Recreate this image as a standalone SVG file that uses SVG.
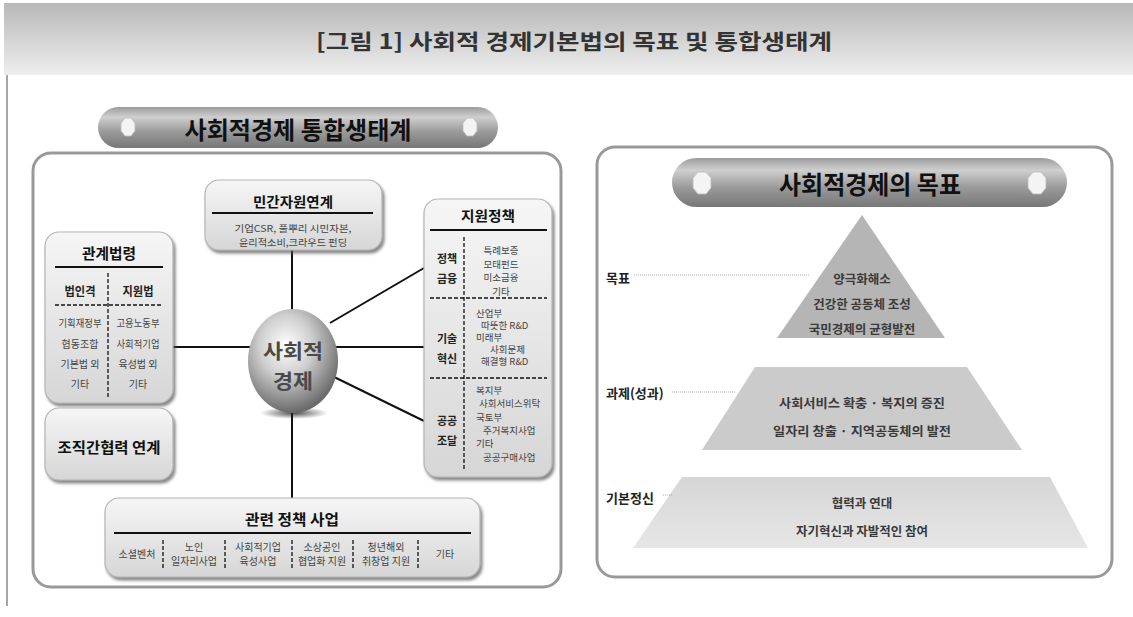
<svg xmlns="http://www.w3.org/2000/svg" width="1133" height="617" viewBox="0 0 1133 617">
<defs>
<linearGradient id="hdr" x1="0" y1="0" x2="0" y2="1"><stop offset="0" stop-color="#b8b8b8"/><stop offset="1" stop-color="#eeeeee"/></linearGradient>
<linearGradient id="pill" x1="0" y1="0" x2="0" y2="1"><stop offset="0" stop-color="#9c9c9c"/><stop offset="0.25" stop-color="#cfcfcf"/><stop offset="0.6" stop-color="#9a9a9a"/><stop offset="1" stop-color="#777"/></linearGradient>
<linearGradient id="box" x1="0" y1="0" x2="0" y2="1"><stop offset="0" stop-color="#f6f6f6"/><stop offset="1" stop-color="#d6d6d6"/></linearGradient>
<linearGradient id="base" x1="0" y1="0" x2="0" y2="1"><stop offset="0" stop-color="#d6d6d6"/><stop offset="1" stop-color="#e6e6e6"/></linearGradient>
<radialGradient id="sphere" cx="0.42" cy="0.35" r="0.65"><stop offset="0" stop-color="#ffffff"/><stop offset="0.45" stop-color="#cfcfcf"/><stop offset="1" stop-color="#6a6a6a"/></radialGradient>
<radialGradient id="sshadow" cx="0.5" cy="0.5" r="0.5"><stop offset="0" stop-color="#222" stop-opacity="0.8"/><stop offset="1" stop-color="#222" stop-opacity="0"/></radialGradient>
<filter id="sh" x="-10%" y="-10%" width="125%" height="130%"><feDropShadow dx="2" dy="3" stdDeviation="1.5" flood-color="#555" flood-opacity="0.7"/></filter>
</defs>
<style>
text{font-family:"Noto Sans CJK KR","Noto Sans",sans-serif;text-anchor:middle;dominant-baseline:central}
.b{font-weight:bold}
.nb{fill:url(#box);stroke:#b4b4b4;stroke-width:1.2;filter:url(#sh)}
.panel{fill:#fff;stroke:#999;stroke-width:3}
.rule{stroke:#111;stroke-width:2}
.dash{stroke:#111;stroke-width:1.3;stroke-dasharray:4 2;fill:none}
.sm{font-size:10px;fill:#444}
.xs{font-size:9.5px;fill:#444}
.conn{stroke:#111;stroke-width:2;fill:none}
.lead{stroke:#999;stroke-width:0.8;stroke-dasharray:1 1}
.oct{fill:#f4f4f4;stroke:#bbb;stroke-width:0.8}
.pt{font-size:12.5px;font-weight:bold;fill:#3a3a3a}
.lbl{font-size:13px;font-weight:bold;fill:#222;text-anchor:start}
</style>

<g id="header">
<rect x="4" y="3" width="1129" height="72" fill="url(#hdr)"/>
<text x="574" y="40" class="b" font-size="21" fill="#333" textLength="516" lengthAdjust="spacingAndGlyphs">[그림 1] 사회적 경제기본법의 목표 및 통합생태계</text>
</g>
<line x1="7" y1="75" x2="7" y2="606" stroke="#888" stroke-width="1.5"/>

<g id="left-panel">
<rect class="panel" x="33" y="153" width="528" height="434" rx="18"/>
<rect x="98" y="107" width="400" height="41" rx="20.5" fill="url(#pill)"/>
<polygon class="oct" points="125,118 131,118 135,123 135,131 131,136 125,136 121,131 121,123"/>
<polygon class="oct" points="467,118 473,118 477,123 477,131 473,136 467,136 463,131 463,123"/>
<text x="298" y="128" class="b" font-size="24" fill="#111" textLength="227" lengthAdjust="spacingAndGlyphs">사회적경제 통합생태계</text>
</g>

<g id="connectors">
<line class="conn" x1="173" y1="347" x2="250" y2="347"/>
<line class="conn" x1="292" y1="250" x2="292" y2="312"/>
<line class="conn" x1="292" y1="412" x2="292" y2="498"/>
<line class="conn" x1="330" y1="323" x2="424" y2="268"/>
<line class="conn" x1="336" y1="347" x2="424" y2="347"/>
<line class="conn" x1="330" y1="375" x2="424" y2="421"/>
</g>

<g id="node-center">
<ellipse cx="294" cy="413" rx="34" ry="6" fill="url(#sshadow)"/>
<ellipse cx="293" cy="361" rx="45" ry="52" fill="url(#sphere)"/>
<text x="293" y="350" class="b" font-size="20" fill="#4a4a4a" textLength="60" lengthAdjust="spacingAndGlyphs">사회적</text>
<text x="293" y="380" class="b" font-size="20" fill="#4a4a4a" textLength="40" lengthAdjust="spacingAndGlyphs">경제</text>
</g>

<g id="node-laws">
<rect class="nb" x="45" y="232" width="128" height="171" rx="14"/>
<text x="109" y="252" class="b" font-size="15" fill="#111" textLength="54" lengthAdjust="spacingAndGlyphs">관계법령</text>
<line class="rule" x1="55" y1="267" x2="163" y2="267"/>
<text x="80" y="290" class="b" font-size="12" fill="#222" textLength="31" lengthAdjust="spacingAndGlyphs">법인격</text>
<text x="138" y="290" class="b" font-size="12" fill="#222" textLength="31" lengthAdjust="spacingAndGlyphs">지원법</text>
<line class="dash" x1="55" y1="305" x2="163" y2="305"/>
<line class="dash" x1="108" y1="273" x2="108" y2="398"/>
<text x="80" y="322" class="sm" textLength="43" lengthAdjust="spacingAndGlyphs">기획재정부</text>
<text x="80" y="343" class="sm">협동조합</text>
<text x="80" y="363" class="sm">기본법 외</text>
<text x="80" y="383" class="sm">기타</text>
<text x="138" y="322" class="sm" textLength="43" lengthAdjust="spacingAndGlyphs">고용노동부</text>
<text x="138" y="343" class="sm" textLength="43" lengthAdjust="spacingAndGlyphs">사회적기업</text>
<text x="138" y="363" class="sm">육성법 외</text>
<text x="138" y="383" class="sm">기타</text>
</g>

<g id="node-org">
<rect class="nb" x="45" y="408" width="128" height="72" rx="14"/>
<text x="109" y="446" class="b" font-size="15" fill="#111" textLength="103" lengthAdjust="spacingAndGlyphs">조직간협력 연계</text>
</g>

<g id="node-private">
<rect class="nb" x="205" y="180" width="177" height="70" rx="14"/>
<text x="293" y="201" class="b" font-size="14" fill="#111" textLength="80" lengthAdjust="spacingAndGlyphs">민간자원연계</text>
<line class="rule" x1="212" y1="213" x2="373" y2="213"/>
<text x="293" y="228" class="xs" textLength="117" lengthAdjust="spacingAndGlyphs">기업CSR, 풀뿌리 시민자본,</text>
<text x="293" y="242" class="xs" textLength="108" lengthAdjust="spacingAndGlyphs">윤리적소비,크라우드 펀딩</text>
</g>

<g id="node-policy">
<rect class="nb" x="424" y="199" width="128" height="278" rx="14"/>
<text x="488" y="215" class="b" font-size="14" fill="#111" textLength="54" lengthAdjust="spacingAndGlyphs">지원정책</text>
<line class="rule" x1="430" y1="230" x2="547" y2="230"/>
<line class="dash" x1="464" y1="237" x2="464" y2="470"/>
<line class="dash" x1="430" y1="298" x2="547" y2="298"/>
<line class="dash" x1="430" y1="378" x2="547" y2="378"/>
<text x="447" y="258" class="b" font-size="11" fill="#222">정책</text>
<text x="447" y="278" class="b" font-size="11" fill="#222">금융</text>
<text x="447" y="338" class="b" font-size="11" fill="#222">기술</text>
<text x="447" y="358" class="b" font-size="11" fill="#222">혁신</text>
<text x="447" y="420" class="b" font-size="11" fill="#222">공공</text>
<text x="447" y="440" class="b" font-size="11" fill="#222">조달</text>
<text x="501" y="250" class="xs">특례보증</text>
<text x="501" y="264" class="xs">모태펀드</text>
<text x="501" y="277" class="xs">미소금융</text>
<text x="501" y="291" class="xs">기타</text>
<text x="476" y="313" class="xs" style="text-anchor:start">산업부</text>
<text x="481" y="325" class="xs" style="text-anchor:start">따뜻한 R&amp;D</text>
<text x="476" y="337" class="xs" style="text-anchor:start">미래부</text>
<text x="490" y="349" class="xs" style="text-anchor:start">사회문제</text>
<text x="481" y="361" class="xs" style="text-anchor:start">해결형 R&amp;D</text>
<text x="476" y="390" class="xs" style="text-anchor:start">복지부</text>
<text x="479" y="403" class="xs" style="text-anchor:start">사회서비스위탁</text>
<text x="476" y="417" class="xs" style="text-anchor:start">국토부</text>
<text x="483" y="430" class="xs" style="text-anchor:start">주거복지사업</text>
<text x="476" y="443" class="xs" style="text-anchor:start">기타</text>
<text x="483" y="457" class="xs" style="text-anchor:start">공공구매사업</text>
</g>

<g id="node-projects">
<rect class="nb" x="105" y="498" width="375" height="79" rx="14"/>
<text x="292" y="518" class="b" font-size="15" fill="#111" textLength="94" lengthAdjust="spacingAndGlyphs">관련 정책 사업</text>
<line class="rule" x1="114" y1="533" x2="471" y2="533"/>
<line class="dash" x1="163" y1="540" x2="163" y2="569"/>
<line class="dash" x1="225" y1="540" x2="225" y2="569"/>
<line class="dash" x1="292" y1="540" x2="292" y2="569"/>
<line class="dash" x1="353" y1="540" x2="353" y2="569"/>
<line class="dash" x1="418" y1="540" x2="418" y2="569"/>
<text x="137" y="553" class="sm">소셜벤처</text>
<text x="194" y="546" class="sm">노인</text>
<text x="194" y="560" class="sm">일자리사업</text>
<text x="258" y="546" class="sm">사회적기업</text>
<text x="258" y="560" class="sm">육성사업</text>
<text x="322" y="546" class="sm">소상공인</text>
<text x="322" y="560" class="sm">협업화 지원</text>
<text x="386" y="546" class="sm">청년해외</text>
<text x="386" y="560" class="sm">취창업 지원</text>
<text x="445" y="553" class="sm">기타</text>
</g>

<g id="right-panel">
<rect class="panel" x="597" y="147" width="515" height="430" rx="18"/>
<rect x="672" y="158" width="395" height="49" rx="24.5" fill="url(#pill)"/>
<polygon class="oct" points="698,172 706,172 711,178 711,188 706,194 698,194 693,188 693,178"/>
<polygon class="oct" points="1033,172 1041,172 1046,178 1046,188 1041,194 1033,194 1028,188 1028,178"/>
<text x="870" y="183" class="b" font-size="25" fill="#111" textLength="182" lengthAdjust="spacingAndGlyphs">사회적경제의 목표</text>
</g>

<g id="tier-goal">
<polygon points="862,215 945,338 777,338" fill="#b5b5b5"/>
<text x="862" y="278" class="pt">양극화해소</text>
<text x="862" y="303" class="pt">건강한 공동체 조성</text>
<text x="862" y="328" class="pt">국민경제의 균형발전</text>
<text x="606" y="277" class="lbl">목표</text>
<line class="lead" x1="634" y1="275" x2="810" y2="275"/>
</g>

<g id="tier-task">
<polygon points="755,367 967,367 1022,450 702,450" fill="#cbcbcb"/>
<text x="862" y="402" class="pt" textLength="166" lengthAdjust="spacingAndGlyphs">사회서비스 확충 · 복지의 증진</text>
<text x="862" y="430" class="pt" textLength="178" lengthAdjust="spacingAndGlyphs">일자리 창출 · 지역공동체의 발전</text>
<text x="606" y="392" class="lbl">과제(성과)</text>
<line class="lead" x1="672" y1="392" x2="736" y2="392"/>
</g>

<g id="tier-spirit">
<polygon points="682,477 1050,477 1088,548 633,548" fill="url(#base)"/>
<text x="862" y="502" class="pt">협력과 연대</text>
<text x="862" y="530" class="pt">자기혁신과 자발적인 참여</text>
<text x="606" y="497" class="lbl">기본정신</text>
<line class="lead" x1="663" y1="495" x2="672" y2="495"/>
</g>
</svg>
